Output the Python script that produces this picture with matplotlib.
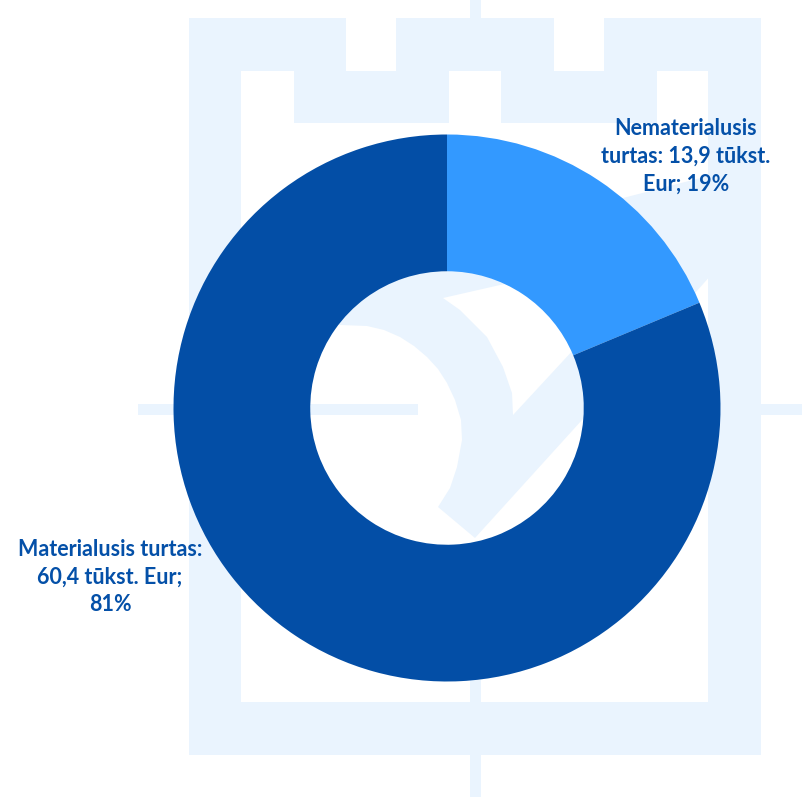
import matplotlib
matplotlib.use("Agg")
import matplotlib.pyplot as plt
from matplotlib.patches import Rectangle, Polygon

# ---- data ----
categories = ["Nematerialusis turtas", "Materialusis turtas"]
values = [13.9, 60.4]           # tūkst. Eur
percents = [19, 81]
labels = ["Nematerialusis\nturtas: 13,9 tūkst.\nEur; 19%",
          "Materialusis turtas:\n60,4 tūkst. Eur;\n81%"]
colors = ["#3399FF", "#034EA6"]
text_color = "#0450A8"
wm_color = "#EAF4FE"

W, H = 802, 797
fig = plt.figure(figsize=(W / 100, H / 100), dpi=100)
fig.patch.set_facecolor("white")

# ---- background watermark (decorative) ----
bg = fig.add_axes([0, 0, 1, 1], zorder=0)
bg.set_xlim(0, W)
bg.set_ylim(H, 0)
bg.axis("off")

def rect(x0, y0, x1, y1):
    bg.add_patch(Rectangle((x0, y0), x1 - x0, y1 - y0, color=wm_color, lw=0))

# outer frame
rect(189, 18, 761, 71)
rect(189, 18, 241, 755)
rect(708, 18, 761, 755)
rect(189, 702, 761, 755)
# battlement notches (white)
bg.add_patch(Rectangle((346, 18), 50, 53, color="white", lw=0))
bg.add_patch(Rectangle((554, 18), 50, 53, color="white", lw=0))
# inner blocks
rect(294, 71, 449, 123)
rect(501, 71, 657, 123)
# thin lines
rect(470, 0, 481, 18)
rect(470, 680, 481, H)
rect(138, 404, 418, 415)
rect(761, 404, W, 415)
# check / arc shape
shape = [(300, 250), (520, 250), (520, 281), (500, 285), (443, 298),
         (460, 310), (487, 337), (503, 367), (512, 393), (513, 415),
         (575, 348), (610, 250), (623, 198), (712, 175), (712, 274),
         (582, 420), (475, 538), (438, 507), (450, 488), (457, 467),
         (462, 440), (461, 420), (455, 400), (447, 383), (438, 369),
         (427, 357), (414, 346), (400, 337), (384, 330), (367, 326),
         (340, 325), (300, 325)]
bg.add_patch(Polygon(shape, closed=True, color=wm_color, lw=0))

# ---- donut ----
cx, cy, R = 447, 408, 273.5
ax = fig.add_axes([(cx - R) / W, (H - cy - R) / H, 2 * R / W, 2 * R / H], zorder=1)
ax.patch.set_alpha(0)
ax.pie(values, colors=colors, startangle=90, counterclock=False,
       radius=1, wedgeprops=dict(width=0.5, linewidth=0), frame=False)
ax.set_xlim(-1, 1)
ax.set_ylim(-1, 1)
ax.set_aspect("equal")
ax.axis("off")

label_pos = [(0.874, 0.921), (-1.232, -0.618)]
for lab, (x, y) in zip(labels, label_pos):
    ax.text(x, y, lab, ha="center", va="center", multialignment="center",
            fontsize=15.5, fontweight="bold", family=["Lato", "DejaVu Sans"],
            color=text_color, linespacing=1.4, clip_on=False)

fig.savefig("out.png", dpi=100)
